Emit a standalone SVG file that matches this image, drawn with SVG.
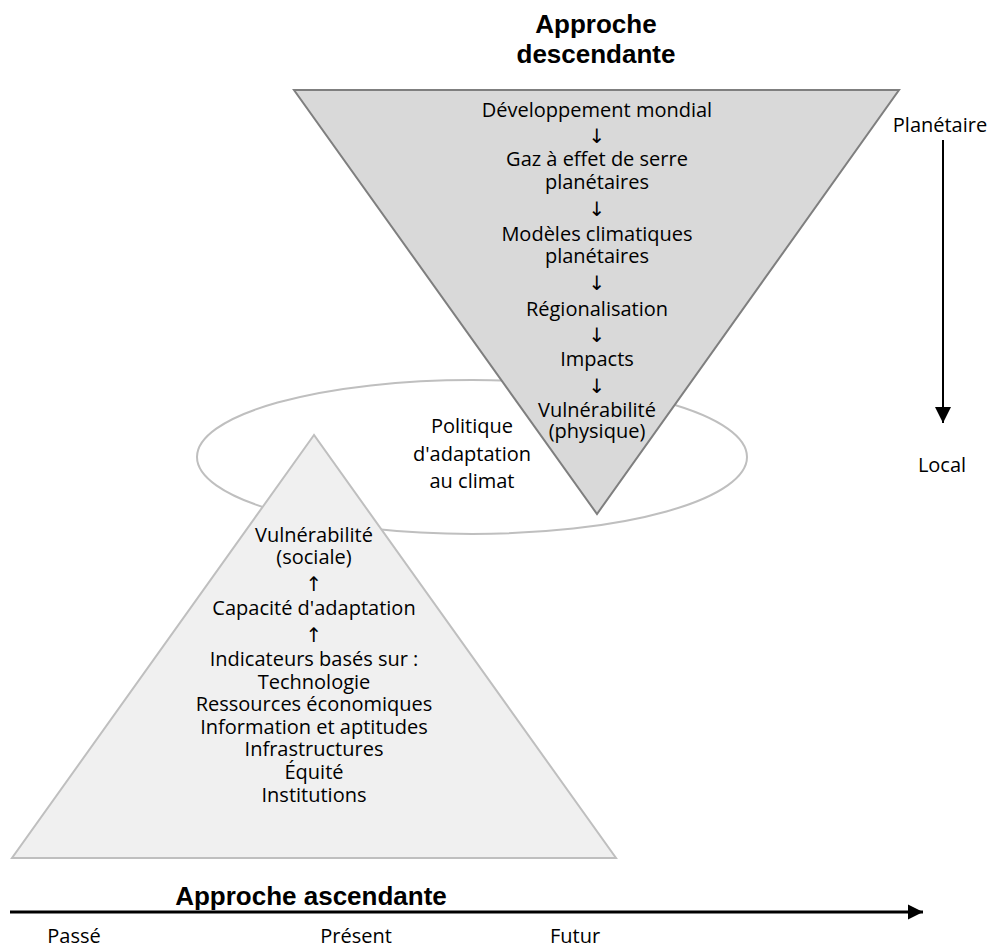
<svg xmlns="http://www.w3.org/2000/svg" width="992" height="948" viewBox="0 0 992 948">
<defs>
<style>
.t{font-family:"Open Sans","Noto Sans","DejaVu Sans",sans-serif;font-size:20px;fill:#000;text-anchor:middle}
.h{font-family:"Liberation Sans",Arial,sans-serif;font-size:26px;font-weight:bold;fill:#000;text-anchor:middle}
</style>
<marker id="ah" viewBox="0 0 10 10" refX="10" refY="5" markerWidth="5" markerHeight="5.4" orient="auto" markerUnits="strokeWidth">
<path d="M0,0 L10,5 L0,10 Z" fill="#000"/>
</marker>
<marker id="av" viewBox="0 0 10 10" refX="10" refY="5" markerWidth="8" markerHeight="8" orient="auto" markerUnits="strokeWidth">
<path d="M0,0 L10,5 L0,10 Z" fill="#000"/>
</marker>
</defs>
<rect width="992" height="948" fill="#fff"/>
<g id="policy">
<ellipse cx="472" cy="457" rx="275" ry="77" fill="none" stroke="#bfbfbf" stroke-width="2"/>
</g>
<g id="bottom-up">
<polygon points="314,435 12,858 616,858" fill="#f0f0f0" stroke="#bfbfbf" stroke-width="2"/>
<text class="t" x="314" y="542">Vulnérabilité</text>
<text class="t" x="314" y="564">(sociale)</text>
<text class="t" x="314" y="591">↑</text>
<text class="t" x="314" y="615">Capacité d'adaptation</text>
<text class="t" x="314" y="642">↑</text>
<text class="t" x="314" y="666">Indicateurs basés sur :</text>
<text class="t" x="314" y="689">Technologie</text>
<text class="t" x="314" y="711">Ressources économiques</text>
<text class="t" x="314" y="734">Information et aptitudes</text>
<text class="t" x="314" y="756">Infrastructures</text>
<text class="t" x="314" y="779">Équité</text>
<text class="t" x="314" y="802">Institutions</text>
</g>
<g id="top-down">
<polygon points="294,90 899,90 597,514" fill="#d9d9d9" stroke="#7f7f7f" stroke-width="2"/>
<text class="t" x="597" y="117">Développement mondial</text>
<text class="t" x="597" y="143">↓</text>
<text class="t" x="597" y="166">Gaz à effet de serre</text>
<text class="t" x="597" y="189">planétaires</text>
<text class="t" x="597" y="216">↓</text>
<text class="t" x="597" y="241">Modèles climatiques</text>
<text class="t" x="597" y="263">planétaires</text>
<text class="t" x="597" y="290">↓</text>
<text class="t" x="597" y="316">Régionalisation</text>
<text class="t" x="597" y="342">↓</text>
<text class="t" x="597" y="366">Impacts</text>
<text class="t" x="597" y="393">↓</text>
<text class="t" x="597" y="417">Vulnérabilité</text>
<text class="t" x="597" y="438">(physique)</text>
</g>
<g id="policy-label">
<text class="t" x="472" y="433">Politique</text>
<text class="t" x="472" y="461">d'adaptation</text>
<text class="t" x="472" y="488">au climat</text>
</g>
<g id="titles">
<text class="h" x="596" y="33">Approche</text>
<text class="h" x="596" y="63">descendante</text>
<text class="h" x="311" y="905">Approche ascendante</text>
</g>
<g id="connectors">
<line x1="943" y1="140" x2="943" y2="423" stroke="#000" stroke-width="2" marker-end="url(#av)"/>
<line x1="10" y1="912" x2="923" y2="912" stroke="#000" stroke-width="3" marker-end="url(#ah)"/>
</g>
<g id="axis-labels">
<text class="t" x="940" y="132">Planétaire</text>
<text class="t" x="942" y="472">Local</text>
<text class="t" x="74" y="943">Passé</text>
<text class="t" x="356" y="943">Présent</text>
<text class="t" x="575" y="943">Futur</text>
</g>
</svg>
